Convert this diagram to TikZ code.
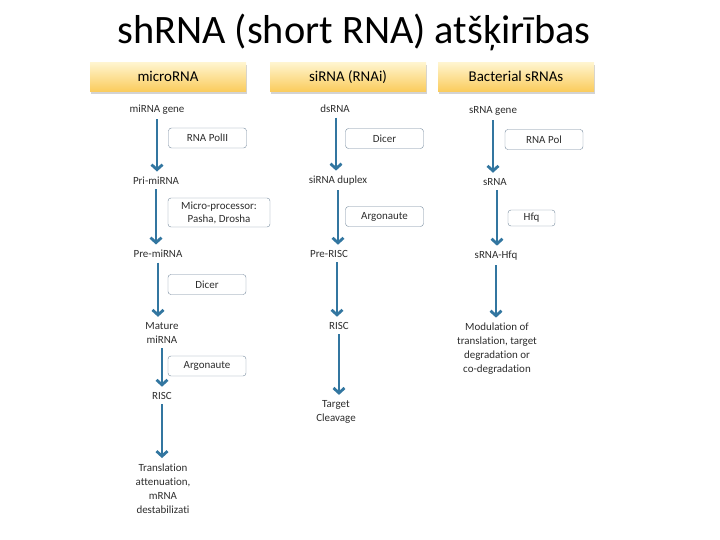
\documentclass[tikz,border=0pt]{standalone}
\usepackage{fontspec}
\setmainfont{Carlito}[Ligatures=NoCommon]
\usetikzlibrary{arrows.meta,shadows}
\definecolor{flowblue}{RGB}{50,118,160}
\definecolor{boxline}{RGB}{118,138,158}
\definecolor{labelgray}{RGB}{45,45,45}
\definecolor{headtop}{RGB}{255,244,205}
\definecolor{headbottom}{RGB}{250,203,90}
\begin{document}
\begin{tikzpicture}[x=1bp,y=-1bp,
	stage/.style={font=\fontsize{11}{14}\selectfont, text=labelgray, align=center, inner sep=1.5pt},
	enzyme/.style={draw=boxline, rounded corners=3bp, fill=white, font=\fontsize{11}{13}\selectfont,
		text=labelgray, align=center, inner sep=1pt, minimum width=78bp, minimum height=20bp},
	header/.style={top color=headtop, bottom color=headbottom,
		drop shadow={shadow xshift=1bp, shadow yshift=-2bp, opacity=.35},
		font=\fontsize{15}{17}\selectfont, text height=11bp, text depth=3bp,
		minimum width=156bp, minimum height=29bp},
	flow/.style={draw=flowblue, line width=2.8bp, -{Straight Barb[length=5bp,width=11bp]},
		shorten <=3bp, shorten >=4bp}]
	\useasboundingbox (0,0) rectangle (720,540);
	\node (title) at (354,32) {\fontsize{40.5}{44}\selectfont shRNA (short RNA) atšķirības};
	\node[header] (hmicro) at (168,77.5) {microRNA};
	\node[header] (hsi) at (348,77.5) {siRNA (RNAi)};
	\node[header] (hbact) at (516,77.5) {Bacterial sRNAs};
	% microRNA
	\node[stage] (migene) at (157,110) {miRNA gene};
	\node[stage] (primi) at (156,181) {Pri-miRNA};
	\node[stage] (premi) at (158,254) {Pre-miRNA};
	\node[stage] (mature) at (162,333) {Mature\\miRNA};
	\node[stage] (mirisc) at (162,396) {RISC};
	\node[stage] (atten) at (163,488.5) {Translation\\attenuation,\\mRNA\\destabilizati};
	\node[enzyme] (polii) at (207.5,138) {RNA PolII};
	\node[enzyme, minimum width=102bp, minimum height=29bp] (micro) at (219,212.5) {Micro-processor:\\Pasha, Drosha};
	\node[enzyme] (midicer) at (207,284.5) {Dicer};
	\node[enzyme] (miago) at (207,366) {Argonaute};
	\draw[flow] (migene.south) -- (migene.south |- primi.north);
	\draw[flow] (primi.south) -- (primi.south |- premi.north);
	\draw[flow] (premi.south) -- (premi.south |- mature.north);
	\draw[flow] (mature.south) -- (mature.south |- mirisc.north);
	\draw[flow] (mirisc.south) -- (mirisc.south |- atten.north);
	% siRNA
	\node[stage] (dsrna) at (335,109) {dsRNA};
	\node[stage] (duplex) at (338,181) {siRNA duplex};
	\node[stage] (prerisc) at (329,254) {Pre-RISC};
	\node[stage] (sirisc) at (339,326) {RISC};
	\node[stage] (cleave) at (336,412) {Target\\Cleavage};
	\node[enzyme] (sidicer) at (384.5,138.5) {Dicer};
	\node[enzyme] (siago) at (384.5,216.5) {Argonaute};
	\draw[flow] ([xshift=1bp]dsrna.south) -- ([xshift=1bp]dsrna.south |- duplex.north);
	\draw[flow] (duplex.south) -- (duplex.south |- prerisc.north);
	\draw[flow] ([xshift=8bp]prerisc.south) -- ([xshift=8bp]prerisc.south |- sirisc.north);
	\draw[flow] (sirisc.south) -- (sirisc.south |- cleave.north);
	% bacterial sRNAs
	\node[stage] (sgene) at (493,111) {sRNA gene};
	\node[stage] (srna) at (495,182) {sRNA};
	\node[stage] (shfq) at (496,256) {sRNA-Hfq};
	\node[stage] (modul) at (497,349) {Modulation of\\translation, target\\degradation or\\co-degradation};
	\node[enzyme] (rnapol) at (544,139.5) {RNA Pol};
	\node[enzyme, minimum width=47bp, minimum height=16bp] (hfq) at (531.5,218) {Hfq};
	\draw[flow] (sgene.south) -- (sgene.south |- srna.north);
	\draw[flow] ([xshift=2bp]srna.south) -- ([xshift=2bp]srna.south |- shfq.north);
	\draw[flow] (shfq.south) -- (shfq.south |- modul.north);
\end{tikzpicture}
\end{document}
